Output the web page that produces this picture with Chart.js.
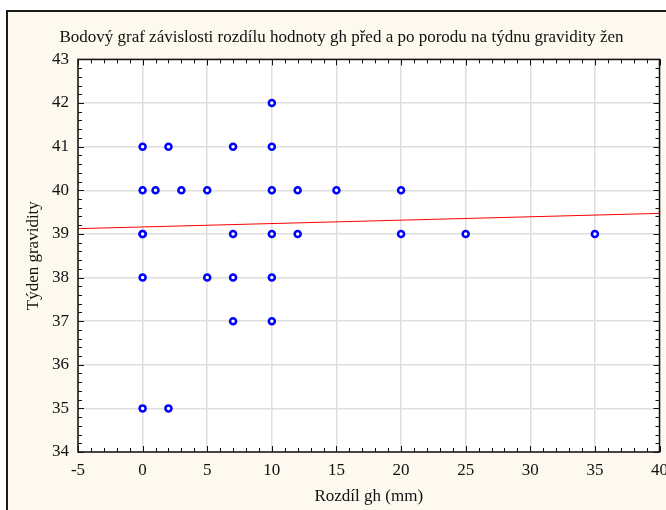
<!DOCTYPE html>
<html>
<head>
<meta charset="utf-8">
<script src="https://cdn.jsdelivr.net/npm/chart.js@4.4.1/dist/chart.umd.min.js"></script>
<style>
  body { margin: 0; background: #ffffff; }
  #frame { position: absolute; left: 6px; top: 10px; width: 720px; height: 560px; border: 2px solid #1a1a1a; background: #fdf9ee; }
  #wrap { position: absolute; left: 0; top: 0; width: 666px; height: 510px; }
</style>
</head>
<body>
<div id="frame"></div>
<div id="wrap"><canvas id="scatterChart" width="666" height="510"></canvas></div>
<script>
// rozdil gh (mm) vs tyden gravidity
const rozdilGh = [0, 0, 0, 0, 0, 0, 1, 2, 2, 3, 5, 5, 7, 7, 7, 7, 10, 10, 10, 10, 10, 10, 12, 12, 15, 20, 20, 25, 35];
const tydenGravidity = [41, 40, 39, 39, 38, 35, 40, 41, 35, 40, 40, 38, 41, 39, 38, 37, 42, 41, 40, 39, 38, 37, 40, 39, 40, 40, 39, 39, 39];

// regresni primka
const trendX = [-5, 40];
const trendY = [39.12, 39.47];

const xTicks = { min: -5, max: 40, step: 5, minor: 1 };
const yTicks = { min: 34, max: 43, step: 1, minor: 0.2 };

const serif = "'Liberation Serif', 'DejaVu Serif', serif";

const points = rozdilGh.map((x, i) => ({ x: x, y: tydenGravidity[i] }));
const trend = trendX.map((x, i) => ({ x: x, y: trendY[i] }));

// white plot area + black frame with inward ticks
const plotFrame = {
  id: 'plotFrame',
  beforeDraw(chart) {
    const a = chart.chartArea, ctx = chart.ctx;
    ctx.save();
    ctx.fillStyle = '#ffffff';
    ctx.fillRect(a.left, a.top, a.right - a.left, a.bottom - a.top);
    ctx.restore();
  },
  afterDatasetsDraw(chart) {
    const a = chart.chartArea, ctx = chart.ctx;
    const xs = chart.scales.x, ys = chart.scales.y;
    ctx.save();
    ctx.strokeStyle = '#111111';
    ctx.lineWidth = 1;
    ctx.beginPath();
    for (let v = xTicks.min; v <= xTicks.max + 1e-9; v += xTicks.minor) {
      const px = Math.round(xs.getPixelForValue(v)) + 0.5;
      const len = Math.abs(v / xTicks.step - Math.round(v / xTicks.step)) < 1e-6 ? 6 : 4;
      ctx.moveTo(px, a.bottom); ctx.lineTo(px, a.bottom - len);
      ctx.moveTo(px, a.top); ctx.lineTo(px, a.top + len);
    }
    for (let v = yTicks.min; v <= yTicks.max + 1e-9; v += yTicks.minor) {
      const py = Math.round(ys.getPixelForValue(v)) + 0.5;
      const len = Math.abs(v / yTicks.step - Math.round(v / yTicks.step)) < 1e-6 ? 6 : 4;
      ctx.moveTo(a.left, py); ctx.lineTo(a.left + len, py);
      ctx.moveTo(a.right, py); ctx.lineTo(a.right - len, py);
    }
    ctx.stroke();
    ctx.lineWidth = 1.5;
    ctx.strokeRect(a.left, a.top, a.right - a.left, a.bottom - a.top);
    ctx.restore();
  },
  afterLayout(chart) {
    if (chart.titleBlock) chart.titleBlock.left = 22;
  }
};

new Chart(document.getElementById('scatterChart').getContext('2d'), {
  type: 'scatter',
  data: {
    datasets: [
      {
        label: 'Regrese',
        type: 'line',
        data: trend,
        borderColor: '#ff0000',
        borderWidth: 1,
        pointRadius: 0,
        fill: false,
        order: 2
      },
      {
        label: 'Týden gravidity',
        data: points,
        pointRadius: 3,
        pointBorderWidth: 2.5,
        borderColor: '#0000ff',
        backgroundColor: '#ffffff',
        order: 1
      }
    ]
  },
  options: {
    responsive: false,
    animation: false,
    layout: { padding: { left: 0, right: 5, top: 0, bottom: 0 } },
    plugins: {
      legend: { display: false },
      tooltip: { enabled: false },
      title: {
        display: true,
        text: 'Bodový graf závislosti rozdílu hodnoty gh před a po porodu na týdnu gravidity žen',
        color: '#111111',
        font: { family: serif, size: 17, weight: 'normal', lineHeight: 1.2 },
        padding: { top: 27, bottom: 12 }
      }
    },
    scales: {
      x: {
        type: 'linear',
        min: xTicks.min,
        max: xTicks.max,
        afterFit(scale) { scale.height = 58; scale.paddingLeft = 0; scale.paddingRight = 0; },
        ticks: { stepSize: xTicks.step, color: '#111111', padding: 8, font: { family: serif, size: 17 } },
        grid: { color: '#dedede', lineWidth: 1.5, drawTicks: false },
        border: { display: false },
        title: {
          display: true,
          text: 'Rozdíl gh (mm)',
          color: '#111111',
          font: { family: serif, size: 17, lineHeight: 1.2 },
          padding: { top: 0, bottom: 3 }
        }
      },
      y: {
        min: yTicks.min,
        max: yTicks.max,
        afterFit(scale) { scale.width = 78; scale.paddingTop = 0; scale.paddingBottom = 0; },
        ticks: { stepSize: yTicks.step, color: '#111111', padding: 9, font: { family: serif, size: 17 } },
        grid: { color: '#dedede', lineWidth: 1.5, drawTicks: false },
        border: { display: false },
        title: {
          display: true,
          text: 'Týden gravidity',
          color: '#111111',
          font: { family: serif, size: 17, lineHeight: 1.2 },
          padding: { top: 23, bottom: 0 }
        }
      }
    }
  },
  plugins: [plotFrame]
});
</script>
</body>
</html>
